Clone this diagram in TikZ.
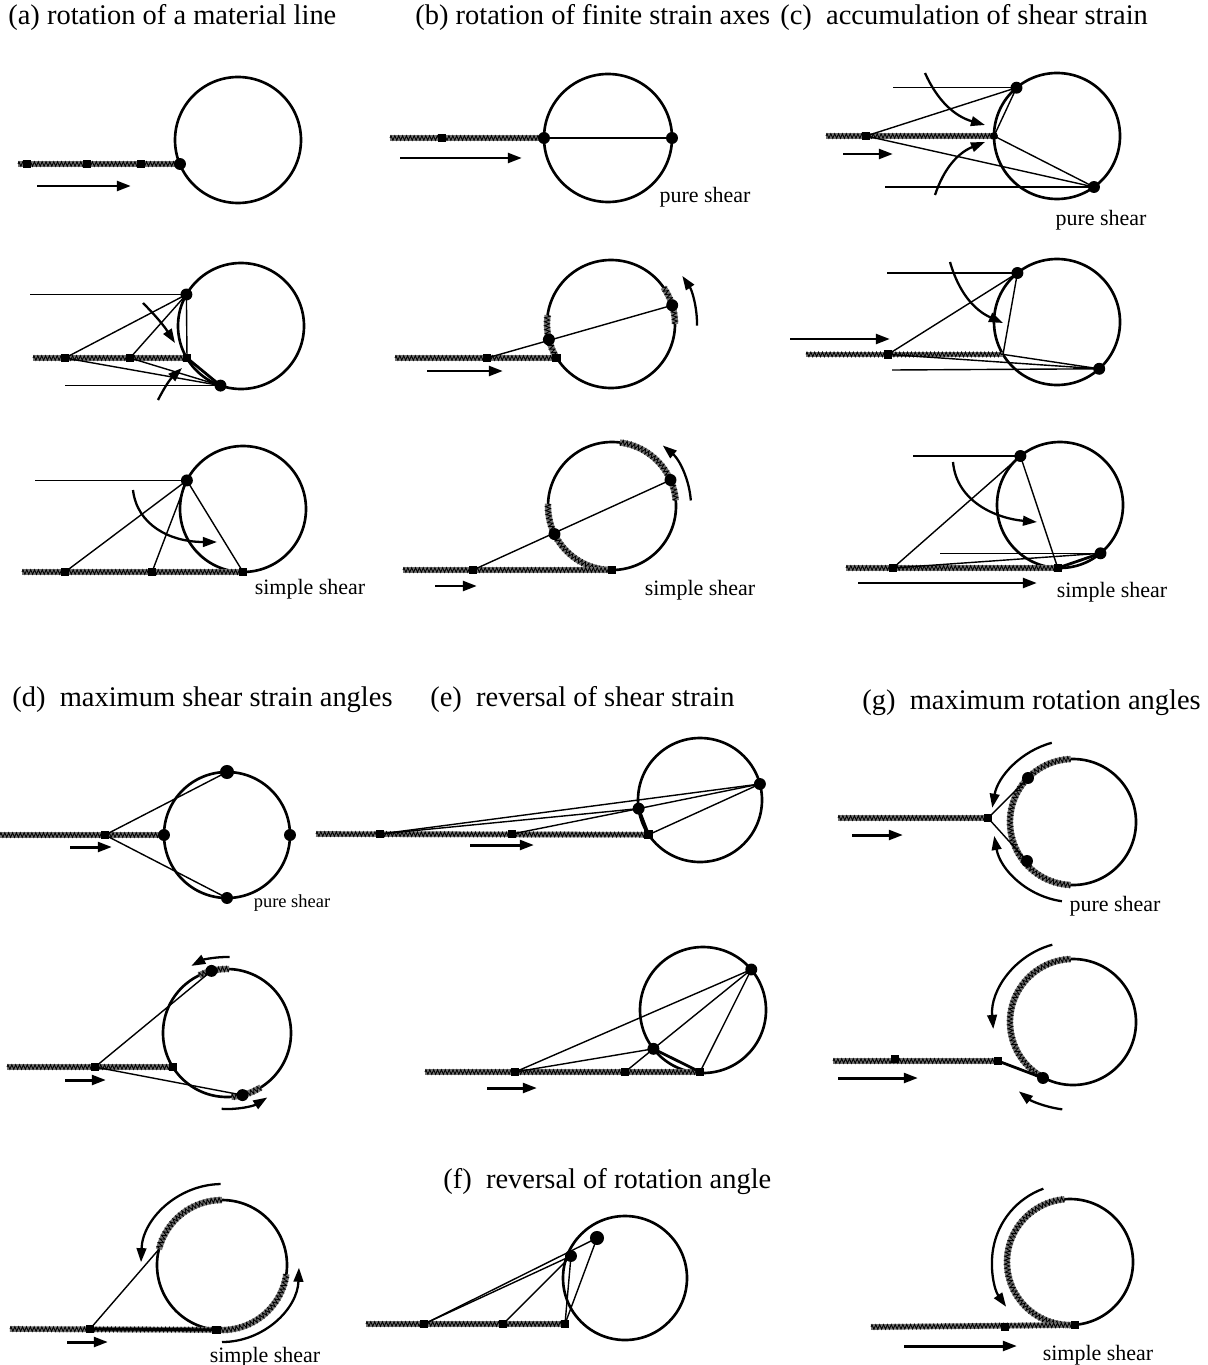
\documentclass[tikz,border=0pt]{standalone}
\usepackage{fontspec}
\setmainfont{Liberation Serif}
\usetikzlibrary{arrows.meta,backgrounds,decorations.pathmorphing}

\begin{document}
\begin{tikzpicture}[x=0.02cm, y=0.02cm,
    circ/.style={line width=1.5pt},
    ln/.style={line width=0.8pt},
    tk/.style={line width=1.6pt},
    hatch/.style={draw=black!55, line width=3.2pt, postaction={draw=black, line width=0.5pt, decorate, decoration={zigzag, segment length=2.2pt, amplitude=1.3pt}}},
    garc/.style={draw=black!55, line width=3.6pt, postaction={draw=black, line width=0.5pt, decorate, decoration={zigzag, segment length=2.2pt, amplitude=1.4pt}}},
    sq/.style={rectangle, fill, inner sep=0pt, minimum size=4.8pt},
    dt/.style={circle, fill, inner sep=0pt, minimum size=6.8pt},
    arr/.style={-{Triangle[length=8pt,width=5.5pt]}, line width=1.7pt},
    carr/.style={-{Triangle[length=8pt,width=5.5pt]}, line width=1.3pt},
    ttl/.style={anchor=west, inner sep=0pt, font=\fontsize{16.2}{19}\selectfont},
    lbl/.style={inner sep=0pt, font=\fontsize{12.5}{14}\selectfont}
]
\useasboundingbox (0,0) rectangle (1207,-1365);

% titles
\node[ttl] (ta) at (8,-18) {(a) rotation of a material line};
\node[ttl] (tb) at (415,-18) {(b) rotation of finite strain axes};
\node[ttl] (tc) at (780,-18) {(c)\ \ accumulation of shear strain};
\node[ttl] (td) at (12,-700) {(d)\ \ maximum shear strain angles};
\node[ttl] (te) at (430,-700) {(e)\ \ reversal of shear strain};
\node[ttl] (tg) at (862,-703) {(g)\ \ maximum rotation angles};
\node[ttl] (tf) at (443,-1182) {(f)\ \ reversal of rotation angle};

% ---------- (a) ----------
\coordinate (a1o) at (238,-140);
\coordinate (a1h) at (18,-164);
\node[sq] (a1s1) at (27,-164) {};
\node[sq] (a1s2) at (87,-164) {};
\node[sq] (a1s3) at (141,-164) {};
\node[dt] (a1p) at (180,-164) {};
\coordinate (a1u) at (37,-186);
\coordinate (a1v) at (131,-186);
\begin{scope}[on background layer]
\draw[circ] (a1o) circle[radius=63];
\draw[hatch] (a1h) -- (a1p.center);
\end{scope}
\draw[arr] (a1u) -- (a1v);

\coordinate (a2o) at (241,-326);
\coordinate (a2h) at (33,-358);
\coordinate (a2t) at (30,-294.5);
\coordinate (a2b) at (65,-385.6);
\node[dt] (a2p) at (186.4,-294.5) {};
\node[dt] (a2d) at (220.5,-385.6) {};
\node[sq] (a2s1) at (65,-358) {};
\node[sq] (a2s2) at (130,-358) {};
\node[sq] (a2s3) at (187,-358) {};
\coordinate (a2c1) at (143,-303);
\coordinate (a2c2) at (175,-343);
\coordinate (a2c3) at (158,-400);
\coordinate (a2c4) at (182,-368);
\begin{scope}[on background layer]
\draw[circ] (a2o) circle[radius=63];
\draw[hatch] (a2h) -- (a2s3.center);
\draw[ln] (a2t) -- (a2p.center);
\draw[ln] (a2s1.center) -- (a2p.center);
\draw[ln] (a2s2.center) -- (a2p.center);
\draw[ln] (a2s3.center) -- (a2p.center);
\draw[ln] (a2s1.center) -- (a2d.center);
\draw[ln] (a2s2.center) -- (a2d.center);
\draw[ln] (a2b) -- (a2d.center);
\draw[tk] (a2s3.center) -- (a2d.center);
\end{scope}
\draw[carr] (a2c1) to[bend left=6] (a2c2);
\draw[carr] (a2c3) to[bend left=10] (a2c4);

\coordinate (a3o) at (243,-509);
\coordinate (a3h) at (22,-572);
\coordinate (a3t) at (35,-480.4);
\node[dt] (a3p) at (186.9,-480.4) {};
\node[sq] (a3s1) at (65,-572) {};
\node[sq] (a3s2) at (152,-572) {};
\node[sq] (a3s3) at (243,-572) {};
\coordinate (a3c1) at (133,-490);
\coordinate (a3c2) at (217,-542);
\node[lbl] (a3l) at (310,-589) {simple shear};
\begin{scope}[on background layer]
\draw[circ] (a3o) circle[radius=63];
\draw[hatch] (a3h) -- (a3s3.center);
\draw[ln] (a3t) -- (a3p.center);
\draw[ln] (a3p.center) -- (a3s1.center);
\draw[ln] (a3p.center) -- (a3s2.center);
\draw[ln] (a3p.center) -- (a3s3.center);
\end{scope}
\draw[carr] (a3c1) .. controls (137,-525) and (170,-542) .. (a3c2);

% ---------- (b) ----------
\coordinate (b1o) at (608,-138);
\coordinate (b1h) at (390,-138);
\node[dt] (b1p) at (544,-138) {};
\node[dt] (b1q) at (672,-138) {};
\node[sq] (b1s) at (442,-138) {};
\coordinate (b1u) at (400,-158);
\coordinate (b1v) at (522,-158);
\node[lbl] (b1l) at (705,-197) {pure shear};
\begin{scope}[on background layer]
\draw[circ] (b1o) circle[radius=64];
\draw[hatch] (b1h) -- (b1p.center);
\draw[ln] (b1p.center) -- (b1q.center);
\end{scope}
\draw[arr] (b1u) -- (b1v);

\coordinate (b2o) at (611,-324);
\coordinate (b2h) at (395,-358);
\node[dt] (b2p) at (548.9,-339.5) {};
\node[dt] (b2q) at (672.2,-305.3) {};
\node[sq] (b2s1) at (487,-358) {};
\node[sq] (b2s2) at (556.7,-358) {};
\coordinate (b2u) at (427,-371);
\coordinate (b2v) at (503,-371);
\begin{scope}[on background layer]
\draw[circ] (b2o) circle[radius=64];
\draw[garc] (b2o) ++(172:64) arc[start angle=172, end angle=214, radius=64];
\draw[garc] (b2o) ++(0:64) arc[start angle=0, end angle=35, radius=64];
\draw[hatch] (b2h) -- (b2s2.center);
\draw[ln] (b2s1.center) -- (b2q.center);
\end{scope}
\draw[carr] (b2o) ++(-1:86) arc[start angle=-1, end angle=34, radius=86];
\draw[arr] (b2u) -- (b2v);

\coordinate (b3o) at (612,-506);
\coordinate (b3h) at (403,-570);
\node[dt] (b3p) at (554.5,-534.1) {};
\node[dt] (b3q) at (670.5,-480) {};
\node[sq] (b3s1) at (473,-570) {};
\node[sq] (b3s2) at (612,-570) {};
\coordinate (b3u) at (435,-586);
\coordinate (b3v) at (477,-586);
\node[lbl] (b3l) at (700,-590) {simple shear};
\begin{scope}[on background layer]
\draw[circ] (b3o) circle[radius=64];
\draw[garc] (b3o) ++(178:64) arc[start angle=178, end angle=268, radius=64];
\draw[garc] (b3o) ++(5:64) arc[start angle=5, end angle=83, radius=64];
\draw[hatch] (b3h) -- (b3s2.center);
\draw[ln] (b3s1.center) -- (b3q.center);
\end{scope}
\draw[carr] (b3o) ++(4:79) arc[start angle=4, end angle=50, radius=79];
\draw[arr] (b3u) -- (b3v);

% ---------- (c) ----------
\coordinate (c1o) at (1057,-136);
\coordinate (c1h) at (826,-136);
\coordinate (c1t) at (893,-87.7);
\coordinate (c1b) at (885,-187);
\node[dt] (c1p) at (1016.5,-87.7) {};
\node[dt] (c1q) at (1094,-187) {};
\node[dt, minimum size=4.5pt] (c1m) at (994,-136) {};
\node[sq] (c1s) at (866,-136) {};
\coordinate (c1c1) at (925,-73);
\coordinate (c1c2) at (985,-125);
\coordinate (c1c3) at (935,-195);
\coordinate (c1c4) at (985,-142);
\coordinate (c1u) at (843,-154);
\coordinate (c1v) at (893,-154);
\node[lbl] (c1l) at (1101,-220) {pure shear};
\begin{scope}[on background layer]
\draw[circ] (c1o) circle[radius=63];
\draw[hatch] (c1h) -- (c1m.center);
\draw[ln] (c1t) -- (c1p.center);
\draw[ln] (c1b) -- (c1q.center);
\draw[ln] (c1s.center) -- (c1p.center);
\draw[ln] (c1s.center) -- (c1q.center);
\draw[ln] (c1m.center) -- (c1q.center);
\draw[ln] (c1m.center) -- (c1p.center);
\end{scope}
\draw[carr] (c1c1) to[bend right=25] (c1c2);
\draw[carr] (c1c3) to[bend left=25] (c1c4);
\draw[arr] (c1u) -- (c1v);

\coordinate (c2o) at (1057,-322);
\coordinate (c2h) at (806,-354.4);
\coordinate (c2m) at (1003,-354.4);
\coordinate (c2t) at (887,-273);
\coordinate (c2b) at (892,-370);
\node[dt] (c2p) at (1017.4,-273) {};
\node[dt] (c2q) at (1099.2,-368.8) {};
\node[sq] (c2s) at (888,-354.4) {};
\coordinate (c2c1) at (950,-262);
\coordinate (c2c2) at (1003,-323);
\coordinate (c2u) at (790,-339);
\coordinate (c2v) at (890,-339);
\begin{scope}[on background layer]
\draw[circ] (c2o) circle[radius=63];
\draw[hatch] (c2h) -- (c2m);
\draw[ln] (c2t) -- (c2p.center);
\draw[ln] (c2b) -- (c2q.center);
\draw[ln] (c2s.center) -- (c2p.center);
\draw[ln] (c2p.center) -- (c2m);
\draw[ln] (c2m) -- (c2q.center);
\draw[ln] (c2s.center) -- (c2q.center);
\end{scope}
\draw[carr] (c2c1) to[bend right=25] (c2c2);
\draw[arr] (c2u) -- (c2v);

\coordinate (c3o) at (1060,-505);
\coordinate (c3h) at (846,-568);
\coordinate (c3t) at (913,-456);
\coordinate (c3b) at (940,-553.3);
\node[dt] (c3p) at (1020.4,-456) {};
\node[dt] (c3q) at (1100.5,-553.3) {};
\node[sq] (c3s1) at (893,-568) {};
\node[sq] (c3s2) at (1057.8,-568) {};
\coordinate (c3c1) at (953,-462);
\coordinate (c3c2) at (1037,-522);
\coordinate (c3u) at (858,-583);
\coordinate (c3v) at (1037,-583);
\node[lbl] (c3l) at (1112,-592) {simple shear};
\begin{scope}[on background layer]
\draw[circ] (c3o) circle[radius=63];
\draw[hatch] (c3h) -- (c3s2.center);
\draw[ln] (c3t) -- (c3p.center);
\draw[ln] (c3b) -- (c3q.center);
\draw[ln] (c3s1.center) -- (c3p.center);
\draw[ln] (c3p.center) -- (c3s2.center);
\draw[ln] (c3s1.center) -- (c3q.center);
\draw[tk] (c3s2.center) -- (c3q.center);
\end{scope}
\draw[carr] (c3c1) to[out=-85, in=175] (c3c2);
\draw[arr] (c3u) -- (c3v);

% ---------- (d) ----------
\coordinate (d1o) at (227,-835);
\coordinate (d1h) at (0,-835);
\node[dt, minimum size=8pt] (d1t) at (227,-772) {};
\node[dt] (d1w) at (164,-835) {};
\node[dt] (d1e) at (290,-835) {};
\node[dt] (d1b) at (227,-898) {};
\node[sq] (d1s) at (105,-835) {};
\coordinate (d1u) at (70,-847);
\coordinate (d1v) at (112,-847);
\node[lbl, font=\fontsize{10.5}{12}\selectfont] (d1n) at (292,-903) {pure shear};
\begin{scope}[on background layer]
\draw[circ] (d1o) circle[radius=63];
\draw[hatch] (d1h) -- (d1w.center);
\draw[ln] (d1s.center) -- (d1t.center);
\draw[ln] (d1s.center) -- (d1b.center);
\end{scope}
\draw[arr] (d1u) -- (d1v);

\coordinate (d2o) at (227,-1033);
\coordinate (d2h) at (7,-1067);
\node[dt] (d2t) at (211.5,-970.9) {};
\node[dt] (d2b) at (242.5,-1095.1) {};
\node[sq] (d2s1) at (95,-1067) {};
\node[sq] (d2s2) at (173,-1067) {};
\coordinate (d2u) at (65,-1080);
\coordinate (d2v) at (106,-1080);
\begin{scope}[on background layer]
\draw[circ] (d2o) circle[radius=64];
\draw[garc] (d2o) ++(88:64) arc[start angle=88, end angle=116, radius=64];
\draw[garc] (d2o) ++(274:64) arc[start angle=274, end angle=302, radius=64];
\draw[hatch] (d2h) -- (d2s2.center);
\draw[ln] (d2s1.center) -- (d2t.center);
\draw[ln] (d2s1.center) -- (d2b.center);
\end{scope}
\draw[carr] (d2o) ++(88:76) arc[start angle=88, end angle=118, radius=76];
\draw[carr] (d2o) ++(266:76) arc[start angle=266, end angle=302, radius=76];
\draw[arr] (d2u) -- (d2v);

\coordinate (d3o) at (222,-1265);
\coordinate (d3h) at (10,-1329);
\coordinate (d3p) at (158.9,-1249.3);
\node[sq] (d3s1) at (90,-1329) {};
\node[sq] (d3s2) at (216.3,-1329.8) {};
\coordinate (d3u) at (67,-1342);
\coordinate (d3v) at (108,-1342);
\node[lbl] (d3l) at (265,-1357) {simple shear};
\begin{scope}[on background layer]
\draw[circ] (d3o) circle[radius=65];
\draw[garc] (d3o) ++(90:65) arc[start angle=90, end angle=166, radius=65];
\draw[garc] (d3o) ++(265:65) arc[start angle=265, end angle=352, radius=65];
\draw[hatch] (d3h) -- (d3s2.center);
\draw[ln] (d3s1.center) -- (d3p);
\draw[tk] (d3s1.center) -- (d3s2.center);
\end{scope}
\draw[carr] (d3o) ++(91:81) arc[start angle=91, end angle=178, radius=81];
\draw[carr] (d3o) ++(270:77) arc[start angle=270, end angle=358, radius=77];
\draw[arr] (d3u) -- (d3v);

% ---------- (e) ----------
\coordinate (e1o) at (700,-800);
\coordinate (e1h) at (316,-834);
\node[dt] (e1p) at (759.9,-784) {};
\node[dt] (e1q) at (638.6,-808.6) {};
\node[sq] (e1s1) at (380,-834) {};
\node[sq] (e1s2) at (512,-834) {};
\node[sq] (e1s3) at (648.6,-834.7) {};
\coordinate (e1u) at (470,-845);
\coordinate (e1v) at (534,-845);
\begin{scope}[on background layer]
\draw[circ] (e1o) circle[radius=62];
\draw[hatch] (e1h) -- (e1s3.center);
\draw[ln] (e1s1.center) -- (e1p.center);
\draw[ln] (e1s1.center) -- (e1q.center);
\draw[ln] (e1s2.center) -- (e1q.center);
\draw[ln] (e1q.center) -- (e1p.center);
\draw[ln] (e1s3.center) -- (e1p.center);
\draw[tk] (e1q.center) -- (e1s3.center);
\end{scope}
\draw[arr] (e1u) -- (e1v);

\coordinate (e2o) at (703,-1010);
\coordinate (e2h) at (425,-1072);
\node[dt] (e2p) at (751.3,-969.5) {};
\node[dt] (e2q) at (653.4,-1048.8) {};
\node[sq] (e2s1) at (515,-1072) {};
\node[sq] (e2s2) at (625,-1072) {};
\node[sq] (e2s3) at (700,-1072) {};
\coordinate (e2u) at (487,-1088);
\coordinate (e2v) at (537,-1088);
\begin{scope}[on background layer]
\draw[circ] (e2o) circle[radius=63];
\draw[hatch] (e2h) -- (e2s3.center);
\draw[ln] (e2s1.center) -- (e2p.center);
\draw[ln] (e2s1.center) -- (e2q.center);
\draw[ln] (e2s2.center) -- (e2q.center);
\draw[ln] (e2q.center) -- (e2p.center);
\draw[ln] (e2s3.center) -- (e2p.center);
\draw[tk] (e2q.center) -- (e2s3.center);
\end{scope}
\draw[arr] (e2u) -- (e2v);

% ---------- (f) ----------
\coordinate (fo) at (625,-1278);
\coordinate (fh) at (366,-1324);
\node[dt, minimum size=8pt] (fp) at (597,-1238) {};
\node[dt] (fq) at (571,-1256) {};
\node[sq] (fs1) at (424,-1324) {};
\node[sq] (fs2) at (503,-1324) {};
\node[sq] (fs3) at (565,-1324) {};
\begin{scope}[on background layer]
\draw[circ] (fo) circle[radius=62];
\draw[hatch] (fh) -- (fs3.center);
\draw[ln] (fs1.center) -- (fp.center);
\draw[ln] (fs1.center) -- (fq.center);
\draw[ln] (fs2.center) -- (fq.center);
\draw[ln] (fs3.center) -- (fp.center);
\draw[ln] (fs3.center) -- (fq.center);
\end{scope}

% ---------- (g) ----------
\coordinate (g1o) at (1073,-822);
\coordinate (g1h) at (838,-818);
\node[sq] (g1s) at (988,-818) {};
\node[dt] (g1p) at (1028,-778) {};
\node[dt] (g1q) at (1027,-861) {};
\coordinate (g1u) at (852,-835);
\coordinate (g1v) at (903,-835);
\node[lbl] (g1l) at (1115,-906) {pure shear};
\begin{scope}[on background layer]
\draw[circ] (g1o) circle[radius=63];
\draw[garc] (g1o) ++(92:63) arc[start angle=92, end angle=268, radius=63];
\draw[hatch] (g1h) -- (g1s.center);
\draw[ln] (g1s.center) -- (g1p.center);
\draw[ln] (g1s.center) -- (g1q.center);
\end{scope}
\draw[carr] (g1o) ++(105:82) arc[start angle=105, end angle=170, radius=82];
\draw[carr] (g1o) ++(262:80) arc[start angle=262, end angle=190, radius=80];
\draw[arr] (g1u) -- (g1v);

\coordinate (g2o) at (1073,-1022);
\coordinate (g2h) at (833,-1061);
\node[sq] (g2s1) at (895,-1059) {};
\node[sq] (g2s2) at (998,-1061) {};
\node[dt] (g2p) at (1043,-1078) {};
\coordinate (g2u) at (838,-1078);
\coordinate (g2v) at (918,-1078);
\begin{scope}[on background layer]
\draw[circ] (g2o) circle[radius=63];
\draw[garc] (g2o) ++(92:63) arc[start angle=92, end angle=245, radius=63];
\draw[hatch] (g2h) -- (g2s2.center);
\draw[tk] (g2s2.center) -- (g2p.center);
\end{scope}
\draw[carr] (g2o) ++(105:80) arc[start angle=105, end angle=185, radius=80];
\draw[carr] (g2o) ++(263:88) arc[start angle=263, end angle=232, radius=88];
\draw[arr] (g2u) -- (g2v);

\coordinate (g3o) at (1070,-1262);
\coordinate (g3h) at (871,-1327);
\node[sq] (g3s1) at (1005,-1327) {};
\node[sq] (g3s2) at (1075,-1325) {};
\coordinate (g3u) at (904,-1346);
\coordinate (g3v) at (1017,-1346);
\node[lbl] (g3l) at (1098,-1355) {simple shear};
\begin{scope}[on background layer]
\draw[circ] (g3o) circle[radius=63];
\draw[garc] (g3o) ++(95:63) arc[start angle=95, end angle=275, radius=63];
\draw[hatch] (g3h) -- (g3s2.center);
\end{scope}
\draw[carr] (g3o) ++(110:78) arc[start angle=110, end angle=215, radius=78];
\draw[arr] (g3u) -- (g3v);
\end{tikzpicture}
\end{document}
